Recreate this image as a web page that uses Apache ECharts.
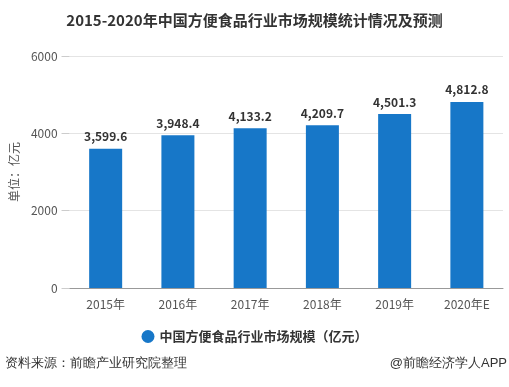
<!DOCTYPE html>
<html><head><meta charset="utf-8">
<script src="https://cdn.jsdelivr.net/npm/echarts@6/dist/echarts.min.js"></script>
<style>html,body{margin:0;padding:0;background:#fff}#c{width:509px;height:387px}</style>
</head><body><div id="c"></div>
<script>
var categories = ['2015年','2016年','2017年','2018年','2019年','2020年E'];
var values = [3599.6, 3948.4, 4133.2, 4209.7, 4501.3, 4812.8];
var yTicks = [0, 2000, 4000, 6000];
var seriesName = '中国方便食品行业市场规模（亿元）';
var chart = echarts.init(document.getElementById('c'));
var font = '"Microsoft YaHei","Noto Sans CJK SC",sans-serif';
chart.setOption({
  backgroundColor:'#fff',
  animation:false,
  textStyle:{fontFamily:font},
  title:{text:'2015-2020年中国方便食品行业市场规模统计情况及预测',left:'center',top:8,
    textStyle:{fontSize:15,fontWeight:'bold',color:'#333',fontFamily:font}},
  legend:{data:[seriesName],top:325,left:'center',icon:'circle',itemWidth:13,itemHeight:13,itemGap:8,
    textStyle:{fontSize:13,color:'#333',fontWeight:'bold',fontFamily:font}},
  grid:{left:67,right:6,top:56,bottom:99},
  xAxis:{type:'category',data:categories,
    axisLine:{lineStyle:{color:'#999'}},axisTick:{show:false},
    axisLabel:{fontSize:12,color:'#555',margin:10}},
  yAxis:{type:'value',min:0,max:6000,interval:2000,
    name:'单位：亿元',nameLocation:'middle',nameGap:44,nameRotate:90,
    nameTextStyle:{fontSize:12,color:'#555'},
    axisLine:{show:false},axisTick:{show:true,length:8,lineStyle:{color:'#ccc'}},
    axisLabel:{fontSize:12,color:'#555',margin:12,formatter:function(v){return String(v);}},
    splitLine:{lineStyle:{color:'#e4e4e4'}}},
  series:[{name:seriesName,type:'bar',data:values,barWidth:33,
    itemStyle:{color:'#1777c8'},
    label:{show:true,position:'top',fontSize:12,fontWeight:'bold',color:'#333',distance:6,
      formatter:function(p){return p.value.toLocaleString('en-US',{minimumFractionDigits:1,maximumFractionDigits:1});}}}],
  graphic:[
    {type:'text',left:5,top:357,style:{text:'资料来源：前瞻产业研究院整理',fontSize:13,fill:'#333',font:'13px '+font}},
    {type:'text',right:2,top:357,style:{text:'@前瞻经济学人APP',fontSize:13,fill:'#333',font:'13px '+font}}
  ]
});
</script></body></html>
